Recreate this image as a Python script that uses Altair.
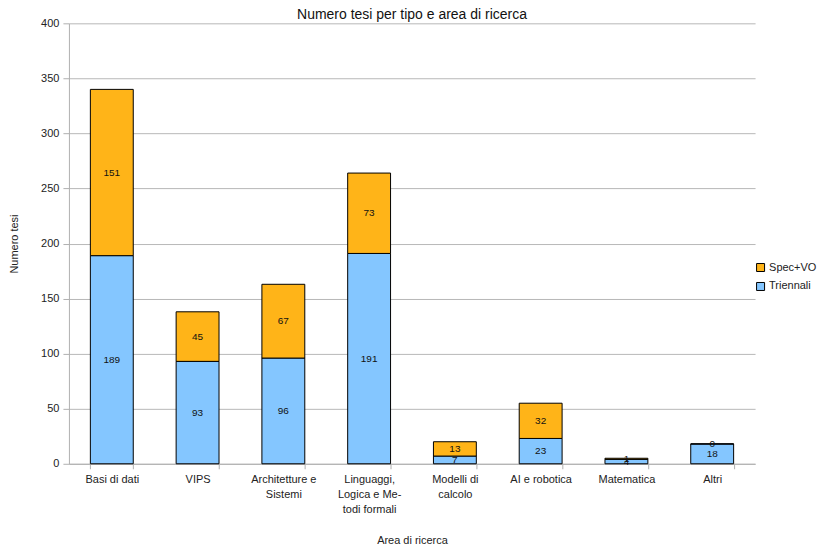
import altair as alt
import pandas as pd

categories = ["Basi di dati", "VIPS", "Architetture e\nSistemi", "Linguaggi,\nLogica e Me-\ntodi formali",
              "Modelli di\ncalcolo", "AI e robotica", "Matematica", "Altri"]
triennali = [189, 93, 96, 191, 7, 23, 4, 18]
spec_vo = [151, 45, 67, 73, 13, 32, 1, 0]
series = ["Spec+VO", "Triennali"]
colors = ["#FFB418", "#84C6FF"]

rows = []
for i, c in enumerate(categories):
    rows.append({"area": c, "tipo": "Triennali", "v": triennali[i], "ord": 0})
    rows.append({"area": c, "tipo": "Spec+VO", "v": spec_vo[i], "ord": 1})
df = pd.DataFrame(rows)

font = "Liberation Sans"

base = alt.Chart(df).transform_stack(
    stack="v", groupby=["area"], as_=["y0", "y1"], sort=[alt.SortField("ord", order="ascending")]
).transform_calculate(mid="(datum.y0 + datum.y1) / 2")

x = alt.X("area:N", sort=categories, title="Area di ricerca",
          scale=alt.Scale(paddingInner=0.5, paddingOuter=0.25),
          axis=alt.Axis(labelAngle=0, labelExpr="split(datum.label, '\\n')", tickBand="extent",
                        labelFontSize=11, labelColor="#222", labelPadding=5, labelLineHeight=15,
                        titlePadding=20, titleFontSize=11, titleFontWeight="normal", titleColor="#222",
                        domainColor="#b0b0b0", tickColor="#b0b0b0", tickSize=5, grid=False))

bars = base.mark_bar(stroke="black", strokeWidth=1).encode(
    x=x,
    y=alt.Y("y0:Q", title="Numero tesi",
            scale=alt.Scale(domain=[0, 400]),
            axis=alt.Axis(values=list(range(0, 401, 50)), labelFontSize=11, labelColor="#222",
                          labelPadding=4, titleColor="#222",
                          titleFontSize=11, titleFontWeight="normal", titlePadding=21,
                          domainColor="#b0b0b0", tickColor="#b0b0b0", tickSize=6,
                          gridColor="#b8b8b8")),
    y2="y1:Q",
    color=alt.Color("tipo:N", scale=alt.Scale(domain=series, range=colors),
                    legend=alt.Legend(title=None, symbolType="square", symbolStrokeColor="black",
                                      symbolStrokeWidth=1, symbolSize=64, labelFontSize=11,
                                      labelColor="#222", orient="none", legendX=687, legendY=239,
                                      rowPadding=6, labelOffset=3, padding=0)),
)

labels = base.mark_text(fontSize=10, color="#111", font=font).encode(
    x=alt.X("area:N", sort=categories),
    y=alt.Y("mid:Q"),
    text=alt.Text("v:Q"),
)

chart = alt.layer(bars, labels).properties(
    width=687, height=441,
    title=alt.TitleParams("Numero tesi per tipo e area di ricerca", fontSize=14, fontWeight="normal",
                          font=font, color="#111", offset=-5),
    padding={"left": 0, "top": 0, "right": 0, "bottom": 0},
).configure(font=font).configure_view(stroke=None).configure_axis(labelFont=font, titleFont=font)

chart.save("out.html", embed_options={"renderer": "svg", "actions": False})
